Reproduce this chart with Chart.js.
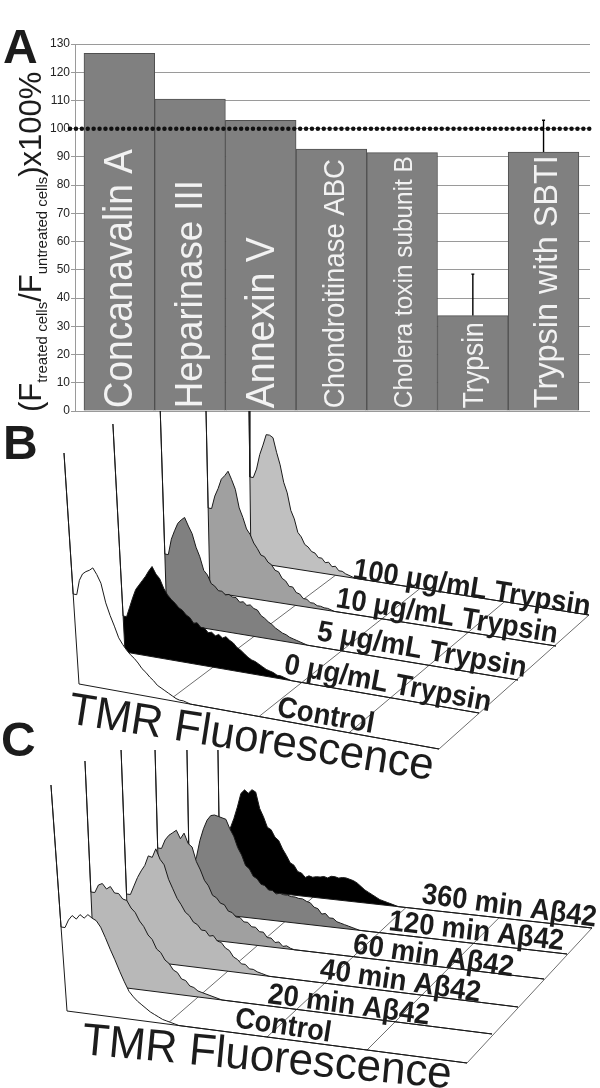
<!DOCTYPE html>
<html>
<head>
<meta charset="utf-8">
<script src="https://cdn.jsdelivr.net/npm/chart.js@4"></script>
<style>
  html, body { margin: 0; padding: 0; background: #fff; }
  #page { position: relative; width: 600px; height: 1088px; overflow: hidden; font-family: "Liberation Sans", Arial, sans-serif; color: #1c1c1c; }
  canvas { position: absolute; left: 0; }
  .letter { position: absolute; font-weight: bold; font-size: 48px; line-height: 1; }
  #ytitle { position: absolute; left: 0; top: 0; white-space: nowrap; font-size: 31px; line-height: 1; transform-origin: 0 0; transform: translate(15px, 412px) rotate(-90deg); }
  #ytitle span { font-size: 15px; position: relative; top: 6px; }
</style>
</head>
<body>
<div id="page">
  <canvas id="chartA" width="600" height="420" style="top:0"></canvas>
  <canvas id="chartB" width="600" height="374" style="top:411px"></canvas>
  <canvas id="chartC" width="600" height="348" style="top:740px"></canvas>
  <div class="letter" style="left:3px;top:23px">A</div>
  <div class="letter" style="left:3px;top:419px">B</div>
  <div class="letter" style="left:1px;top:716px">C</div>
  <div id="ytitle">(F<span>treated cells</span>/F<span>untreated cells</span>)x100%</div>
</div>
<script>
// panel A values
const categories = ['Concanavalin A', 'Heparinase III', 'Annexin V', 'Chondroitinase ABC', 'Cholera toxin subunit B', 'Trypsin', 'Trypsin with SBTI'];
const barValues = [126.7, 110.5, 103, 92.8, 91.5, 33.8, 91.7];
const errorTops = [null, null, null, null, null, 48.5, 103];
const referenceValue = 100;

// panel B, counts per channel (channel = % along the fluorescence axis, first one is the off scale spike)
const bLabels = ['Control', '0 μg/mL Trypsin', '5 μg/mL Trypsin', '10 μg/mL Trypsin', '100 μg/mL Trypsin'];
const bControl = [231, 90, 105, 112, 115, 117, 120, 114, 106, 87, 75, 65, 54, 48, 43, 39, 36, 32, 27, 24, 20, 17, 13, 11, 9, 7, 5, 3, 2, 2, 1, 0];
const b0 = [228, 36, 46, 56, 65, 70, 75, 80, 86, 91, 84, 80, 71, 65, 61, 58, 54, 52, 48, 46, 41, 42, 38, 38, 34, 35, 32, 34, 31, 33, 30, 28, 24, 22, 19, 16, 14, 13, 11, 9, 7, 6, 5, 3, 3, 2, 1, 0];
const b5 = [217, 68, 84, 93, 101, 105, 108, 100, 93, 80, 71, 58, 54, 46, 44, 40, 40, 37, 38, 36, 36, 32, 33, 30, 31, 28, 27, 22, 20, 17, 15, 12, 10, 8, 7, 5, 4, 3, 2, 1, 0];
const b10 = [182, 84, 97, 105, 115, 119, 124, 116, 107, 89, 80, 69, 64, 56, 51, 45, 44, 39, 37, 32, 31, 25, 23, 18, 18, 13, 12, 8, 8, 5, 5, 3, 3, 2, 2, 1, 0];
const b100 = [152, 85, 94, 109, 119, 130, 130, 128, 114, 102, 85, 75, 58, 50, 37, 33, 26, 24, 20, 19, 15, 15, 11, 12, 8, 9, 5, 5, 3, 2, 1, 0];
const bTraces = [bControl, b0, b5, b10, b100];

// panel C
const cLabels = ['Control', '20 min Aβ42', '40 min Aβ42', '60 min Aβ42', '120 min Aβ42', '360 min Aβ42'];
const cControl = [226, 84, 92, 97, 94, 99, 96, 100, 97, 95, 89, 79, 68, 58, 47, 37, 28, 23, 19, 16, 13, 10, 8, 6, 4, 3, 2, 1, 0];
const c20 = [223, 92, 100, 102, 97, 100, 94, 94, 89, 88, 81, 77, 69, 64, 56, 52, 43, 40, 33, 30, 24, 22, 16, 15, 10, 9, 6, 5, 4, 3, 2, 1, 0];
const c40 = [209, 65, 74, 83, 90, 96, 106, 105, 114, 104, 99, 85, 76, 67, 61, 54, 51, 45, 43, 38, 38, 33, 34, 29, 28, 23, 21, 15, 13, 9, 9, 5, 5, 3, 2, 1, 0];
const c60 = [184, 86, 95, 100, 103, 106, 98, 104, 94, 91, 77, 69, 59, 54, 45, 43, 38, 37, 31, 30, 26, 26, 22, 22, 18, 18, 14, 14, 9, 9, 5, 6, 2, 3, 1, 0];
const c120 = [161, 45, 55, 72, 84, 93, 98, 99, 98, 97, 96, 87, 80, 69, 62, 52, 49, 42, 40, 35, 34, 30, 30, 27, 28, 27, 27, 26, 26, 25, 25, 23, 22, 18, 17, 12, 13, 9, 9, 6, 5, 4, 3, 2, 1, 0];
const c360 = [137, 45, 52, 60, 70, 82, 96, 100, 97, 101, 99, 83, 75, 65, 63, 56, 53, 45, 39, 32, 30, 24, 23, 19, 21, 20, 21, 21, 22, 21, 23, 23, 22, 23, 23, 22, 21, 19, 16, 13, 11, 9, 7, 5, 4, 3, 2, 1, 0];
const cTraces = [cControl, c20, c40, c60, c120, c360];

// drawing set up, not data
const barLabelSizes = [41, 39, 40, 29.5, 25, 30, 33.5];
const barLabelLengths = [259, 228, 171, 249, 252, 86, 253];
const barLabelOffsets = [12.7, 12, 13, 13, 9.5, 10, 13.4];

const bStarts = [[79, 684], [125, 652], [167, 622], [210, 592], [251, 562]];
const bEnds = [[439, 749], [479, 713], [518, 680], [556, 646], [589, 615]];
const bSlants = [0.065, 0.053, 0.032, 0.022, 0.013];
const bFills = ['#ffffff', '#000000', '#808080', '#a0a0a0', '#c0c0c0'];
const bLabelPos = [[276, 716, 10], [283, 673, 10.5], [316, 640, 10], [335, 607, 9.2], [352, 578, 9]];
const bLabelLengths = [98, 210, 212, 224, 240];

const cStarts = [[67, 1011], [95, 984], [129, 959], [160, 934], [190, 911], [220, 887]];
const cEnds = [[467, 1063], [492, 1034], [518, 1007], [544, 979], [567, 954], [592, 928]];
const cSlants = [0.071, 0.045, 0.038, 0.027, 0.019, 0.015];
const cFills = ['#ffffff', '#b8b8b8', '#b8b8b8', '#a0a0a0', '#808080', '#000000'];
const cLabelPos = [[234, 1027, 8.8], [267, 1003, 7.6], [319, 978, 8.4], [352, 953, 8.3], [388, 930, 6.6], [421, 903, 7.7]];
const cLabelLengths = [97, 163, 162, 162, 176, 176];

// bars sit on a linear x axis so that the grid can run past both outer bars
const barWidth = 70.7;
const xAxisMin = -0.127;
const xAxisMax = 7.157;

// draws text so that it spans a given length, the original labels are squeezed
function fitText(ctx, text, length) {
    ctx.scale(length / ctx.measureText(text).width, 1);
    ctx.fillText(text, 0, 0);
}

// error bars and the text inside the bars
const barExtras = {
    id: 'barExtras',
    afterDatasetsDraw(chart) {
        const ctx = chart.ctx;
        const x = chart.scales.x;
        const y = chart.scales.y;
        ctx.save();
        ctx.strokeStyle = '#000';
        ctx.lineWidth = 1.4;
        errorTops.forEach((top, i) => {
            if (top === null) return;
            const px = x.getPixelForValue(i + 0.5);
            ctx.beginPath();
            ctx.moveTo(px, y.getPixelForValue(barValues[i]));
            ctx.lineTo(px, y.getPixelForValue(top));
            ctx.moveTo(px - 1.5, y.getPixelForValue(top));
            ctx.lineTo(px + 1.5, y.getPixelForValue(top));
            ctx.stroke();
        });
        ctx.fillStyle = '#f2f2f2';
        ctx.textAlign = 'left';
        ctx.textBaseline = 'alphabetic';
        categories.forEach((name, i) => {
            ctx.save();
            ctx.translate(x.getPixelForValue(i + 0.5) + barLabelOffsets[i], y.getPixelForValue(1));
            ctx.rotate(-Math.PI / 2);
            ctx.font = barLabelSizes[i] + 'px "Liberation Sans"';
            fitText(ctx, name, barLabelLengths[i]);
            ctx.restore();
        });
        ctx.restore();
    }
};

new Chart(document.getElementById('chartA').getContext('2d'), {
    data: {
        datasets: [{
            type: 'line',
            data: [{ x: xAxisMin - 0.07, y: referenceValue }, { x: xAxisMax, y: referenceValue }],
            borderColor: '#111',
            borderWidth: 4.5,
            borderDash: [0, 5.9],
            borderCapStyle: 'round',
            pointRadius: 0,
            clip: false
        }, {
            type: 'bar',
            data: barValues.map((v, i) => ({ x: i + 0.5, y: v })),
            backgroundColor: '#808080',
            borderColor: '#505050',
            borderWidth: 1,
            barThickness: barWidth
        }]
    },
    options: {
        responsive: false,
        animation: false,
        layout: { padding: { top: 44, bottom: 9, right: 10, left: 0 } },
        plugins: { legend: { display: false }, tooltip: { enabled: false } },
        scales: {
            x: { type: 'linear', min: xAxisMin, max: xAxisMax, offset: false, display: false, grid: { display: false } },
            y: {
                min: 0,
                max: 130,
                afterFit(scale) { scale.width = 75; },
                ticks: { stepSize: 10, color: '#222', padding: 1, font: { family: 'Liberation Sans', size: 12 } },
                grid: { color: '#9a9a9a', tickLength: 4, tickColor: '#9a9a9a' },
                border: { color: '#9a9a9a' }
            }
        }
    },
    plugins: [barExtras]
});

// trace outline on the floor of the waterfall: base start, spike and back down, curve, base end
function tracePoints(counts, start, end, slant) {
    const dx = end[0] - start[0];
    const dy = end[1] - start[1];
    const points = [{ x: start[0], y: start[1] }];
    points.push({ x: start[0] - slant * counts[0], y: start[1] - counts[0] });
    points.push({ x: start[0] - slant * counts[1], y: start[1] - counts[1] });
    counts.forEach((h, channel) => {
        if (channel === 0) return;
        const t = channel / 100;
        points.push({ x: start[0] + t * dx - slant * h, y: start[1] + t * dy - h });
    });
    points.push({ x: end[0], y: end[1] });
    points.push({ x: start[0], y: start[1] });
    return points;
}

function floorLine(a, b) {
    return {
        data: [{ x: a[0], y: a[1] }, { x: b[0], y: b[1] }],
        borderColor: '#6e6e6e',
        borderWidth: 1,
        pointRadius: 0,
        fill: false
    };
}

function waterfall(canvasId, traces, labels, starts, ends, slants, fills, labelPos, labelLengths, title, yMin, yMax) {
    const datasets = traces.map((counts, i) => ({
        data: tracePoints(counts, starts[i], ends[i], slants[i]),
        borderColor: '#1a1a1a',
        borderWidth: 1,
        backgroundColor: fills[i],
        fill: 'shape',
        pointRadius: 0,
        tension: 0
    }));
    const last = traces.length - 1;
    // floor divisions, four across
    [0.25, 0.5, 0.75, 1].forEach(f => {
        const a = [starts[0][0] + f * (ends[0][0] - starts[0][0]), starts[0][1] + f * (ends[0][1] - starts[0][1])];
        const b = [starts[last][0] + f * (ends[last][0] - starts[last][0]), starts[last][1] + f * (ends[last][1] - starts[last][1])];
        datasets.push(floorLine(a, b));
    });
    const labelDraw = {
        id: 'labelDraw',
        afterDraw(chart) {
            const ctx = chart.ctx;
            const x = chart.scales.x;
            const y = chart.scales.y;
            ctx.save();
            ctx.fillStyle = '#1c1c1c';
            ctx.textBaseline = 'alphabetic';
            labels.forEach((name, i) => {
                ctx.save();
                ctx.translate(x.getPixelForValue(labelPos[i][0]), y.getPixelForValue(labelPos[i][1]));
                ctx.rotate(labelPos[i][2] * Math.PI / 180);
                ctx.font = 'bold 29.5px "Liberation Sans"';
                fitText(ctx, name, labelLengths[i]);
                ctx.restore();
            });
            ctx.translate(x.getPixelForValue(title.x), y.getPixelForValue(title.y));
            ctx.rotate(title.angle * Math.PI / 180);
            ctx.font = '45px "Liberation Sans"';
            fitText(ctx, title.text, title.length);
            ctx.restore();
        }
    };
    return new Chart(document.getElementById(canvasId).getContext('2d'), {
        type: 'line',
        data: { datasets: datasets },
        options: {
            responsive: false,
            animation: false,
            parsing: false,
            layout: { padding: 0 },
            plugins: { legend: { display: false }, tooltip: { enabled: false } },
            scales: {
                x: { type: 'linear', min: 0, max: 600, display: false },
                y: { type: 'linear', min: yMin, max: yMax, reverse: true, display: false }
            }
        },
        plugins: [labelDraw]
    });
}

waterfall('chartB', bTraces, bLabels, bStarts, bEnds, bSlants, bFills, bLabelPos, bLabelLengths,
    { text: 'TMR Fluorescence', x: 67, y: 723, angle: 8.9, length: 369 }, 411, 785);
waterfall('chartC', cTraces, cLabels, cStarts, cEnds, cSlants, cFills, cLabelPos, cLabelLengths,
    { text: 'TMR Fluorescence', x: 81, y: 1054, angle: 5.3, length: 371 }, 740, 1088);
</script>
</body>
</html>
